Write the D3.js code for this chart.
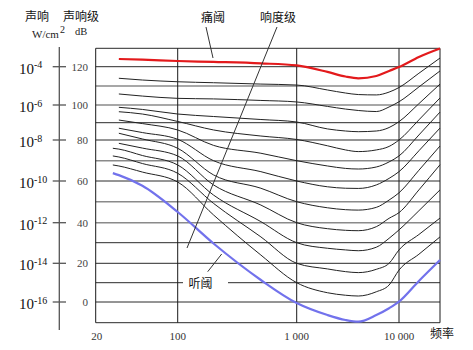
<!DOCTYPE html>
<html><head><meta charset="utf-8">
<script src="https://cdn.jsdelivr.net/npm/d3@7"></script>
<style>body{margin:0;background:#fff}svg{display:block}</style>
</head><body>
<script>
// ---- data ----
const freqs = [28, 31.5, 50, 100, 200, 500, 1000, 2000, 3000, 4000, 6000, 8000, 10000, 14000, 20000];
const phon120 = [null,124.2,123.8,123.1,122.6,121.8,120.7,117.3,114.9,114,115.2,117.8,119.8,125.3,129.9];
const phon110 = [null,114,113.1,112.2,111.7,111,110.5,107.9,106.3,105.5,105.3,106.8,109.2,116.6,124.7];
const phon100 = [null,105.8,104.7,103.5,103.2,102.4,101.6,99.2,97.7,96.9,96.3,98.9,101.7,109.5,117.8];
const phon90  = [null,98.7,97.5,94.9,93.5,91.8,90.4,86.4,85.2,84.8,85.2,87.2,90.6,100.7,111];
const phon80  = [null,96.2,94.9,90.7,85.8,82.3,80.3,77.2,75.2,74.4,75.2,76.9,80,91.6,103.7];
const phon70  = [null,91.5,89.5,85.8,77.4,73.6,70,67.4,66.2,65.9,66.9,69.4,72.3,82.9,96];
const phon60  = [null,86.8,84.3,80.4,70,64.6,60,57.2,56.5,56.4,58.1,61.3,64.6,74.8,86.9];
const phon50  = [null,83.9,80.6,76,63,56.5,50,47.1,46.2,46,47.3,50.8,54.3,65.3,77.1];
const phon40  = [null,78.4,76.1,72.3,58.1,48.4,40,37,36.2,36,38,42.1,44.8,55.7,68];
const phon30  = [76,75.6,72.5,67.9,53.2,40.5,30,27.3,26.5,26.1,27.8,32.2,36.4,45.7,55.7];
const phon20  = [72.3,71.8,68.6,63.8,49.2,32.9,20,17.1,15.7,15.2,16.9,20,26.5,34.1,42.2];
const phon10  = [67.9,67.4,64.4,59.5,43.7,24,10,4.8,3.5,3.1,5.3,8.8,16.5,24.4,32.9];
const threshold = [63.9,62.9,57.7,45.1,29.6,11.4,-0.5,-6.3,-8.7,-9.5,-6.3,-3,0.2,10.9,21.6];
const blackCurves = [phon110, phon100, phon90, phon80, phon70, phon60, phon50, phon40, phon30, phon20, phon10];

const dbTicks = [0, 20, 40, 60, 80, 100, 120];
const intensityExp = [-16, -14, -12, -10, -8, -6, -4];
const freqTicks = [20, 100, 1000, 10000];
const freqTickLabels = ["20", "100", "1 000", "10 000"];
const gridDb = d3.range(-10, 131, 10);
const grayGrid = [110, 100, 70, 50, 40];
const vGrid = [100, 1000, 10000];

// ---- scales ----
const W = 473, H = 350;
const x = d3.scaleLog()
  .domain([20, 100, 1000, 10000, 20000])
  .range([95.7, 177.7, 296.7, 399, 440]);
const y = d3.scaleLinear()
  .domain([130, 120, 110, 100, 90, 80, 70, 60, 50, 40, 30, 20, 10, 0, -10])
  .range([48.3, 66.7, 86, 105, 122.7, 140, 160.7, 181, 201.7, 222.7, 242.7, 263.3, 282.7, 302, 322.7]);

const svg = d3.select("body").append("svg").attr("width", W).attr("height", H)
  .style("font-family", "'Liberation Serif','Times New Roman',serif");
const cjk = "'Noto Sans CJK SC','Noto Sans',sans-serif";

// ---- grid ----
const [x0, x1] = [x(20), x(20000)];
const [yTop, yBot] = [y(130), y(-10)];
svg.append("g").selectAll("line").data(gridDb).join("line")
  .attr("x1", x0).attr("x2", x1)
  .attr("y1", d => y(d)).attr("y2", d => y(d))
  .attr("stroke", d => grayGrid.includes(d) ? "#8a8a8a" : "#2a2a2a")
  .attr("stroke-width", d => grayGrid.includes(d) ? 1.6 : 1);
svg.append("g").selectAll("line").data([20, ...vGrid, 20000]).join("line")
  .attr("x1", d => x(d)).attr("x2", d => x(d))
  .attr("y1", yTop).attr("y2", yBot)
  .attr("stroke", "#1a1a1a").attr("stroke-width", 1);

// ---- curves ----
const line = d3.line()
  .defined(d => d[1] != null)
  .x(d => x(d[0])).y(d => y(d[1]))
  .curve(d3.curveMonotoneX);
const toPts = arr => freqs.map((f, i) => [f, arr[i]]);

svg.append("g").selectAll("path").data(blackCurves).join("path")
  .attr("d", d => line(toPts(d)))
  .attr("fill", "none").attr("stroke", "#222").attr("stroke-width", 1);
svg.append("path").attr("d", line(toPts(phon120)))
  .attr("fill", "none").attr("stroke", "#e31a1c").attr("stroke-width", 2.2);
svg.append("path").attr("d", line(toPts(threshold)))
  .attr("fill", "none").attr("stroke", "#7272ec").attr("stroke-width", 2.2);

// ---- left axis ----
const axX = 59.3;
svg.append("line").attr("x1", axX).attr("x2", axX).attr("y1", 47).attr("y2", 330)
  .attr("stroke", "#555").attr("stroke-width", 1.3);
const tg = svg.append("g").selectAll("g").data(dbTicks).join("g");
tg.append("line").attr("x1", 52.7).attr("x2", 66).attr("y1", d => y(d)).attr("y2", d => y(d))
  .attr("stroke", "#555").attr("stroke-width", 1.3);
tg.append("text").attr("x", 88).attr("y", d => y(d) + 4).attr("text-anchor", "end")
  .attr("font-size", 11).attr("fill", "#444").text(d => d);
tg.append("text").attr("x", 19).attr("y", d => y(d) + 7)
  .attr("font-size", 15).attr("fill", "#111").text("10");
tg.append("text").attr("x", 34).attr("y", (d, i) => y(d) + 1.5)
  .attr("font-size", 10).attr("fill", "#111").text((d, i) => intensityExp[i]);

// ---- bottom labels ----
svg.append("g").selectAll("text").data(freqTicks).join("text")
  .attr("x", d => x(d) + (d === 20 ? 1 : 0)).attr("y", 340).attr("text-anchor", "middle")
  .attr("font-size", 11).attr("fill", "#333").text((d, i) => freqTickLabels[i]);
svg.append("text").attr("x", 442).attr("y", 338).attr("text-anchor", "middle")
  .attr("font-family", cjk).attr("font-size", 12).attr("fill", "#111").text("频率");

// ---- header labels ----
svg.append("text").attr("x", 25).attr("y", 21).attr("font-family", cjk).attr("font-size", 12).attr("fill", "#111").text("声响");
svg.append("text").attr("x", 63).attr("y", 21).attr("font-family", cjk).attr("font-size", 12).attr("fill", "#111").text("声响级");
svg.append("text").attr("x", 32).attr("y", 38).attr("font-size", 11).attr("fill", "#222").text("W/cm");
svg.append("text").attr("x", 60).attr("y", 33).attr("font-size", 10).attr("fill", "#222").text("2");
svg.append("text").attr("x", 75).attr("y", 35).attr("font-size", 10.5).attr("fill", "#222").text("dB");

// ---- annotations ----
const ann = svg.append("g").attr("font-family", cjk).attr("font-size", 12).attr("fill", "#111");
ann.append("text").attr("x", 213).attr("y", 22).attr("text-anchor", "middle").text("痛阈");
ann.append("line").attr("x1", 206).attr("y1", 27).attr("x2", 213).attr("y2", 58).attr("stroke", "#333");
ann.append("text").attr("x", 278).attr("y", 22).attr("text-anchor", "middle").text("响度级");
ann.append("line").attr("x1", 277).attr("y1", 27).attr("x2", 187).attr("y2", 248).attr("stroke", "#333");
ann.append("rect").attr("x", 183).attr("y", 276).attr("width", 45).attr("height", 14).attr("fill", "#fff");
ann.append("text").attr("x", 200.5).attr("y", 288).attr("text-anchor", "middle").text("听阈");
ann.append("line").attr("x1", 207.7).attr("y1", 271.7).attr("x2", 221.7).attr("y2", 254).attr("stroke", "#333");
</script>
</body></html>
